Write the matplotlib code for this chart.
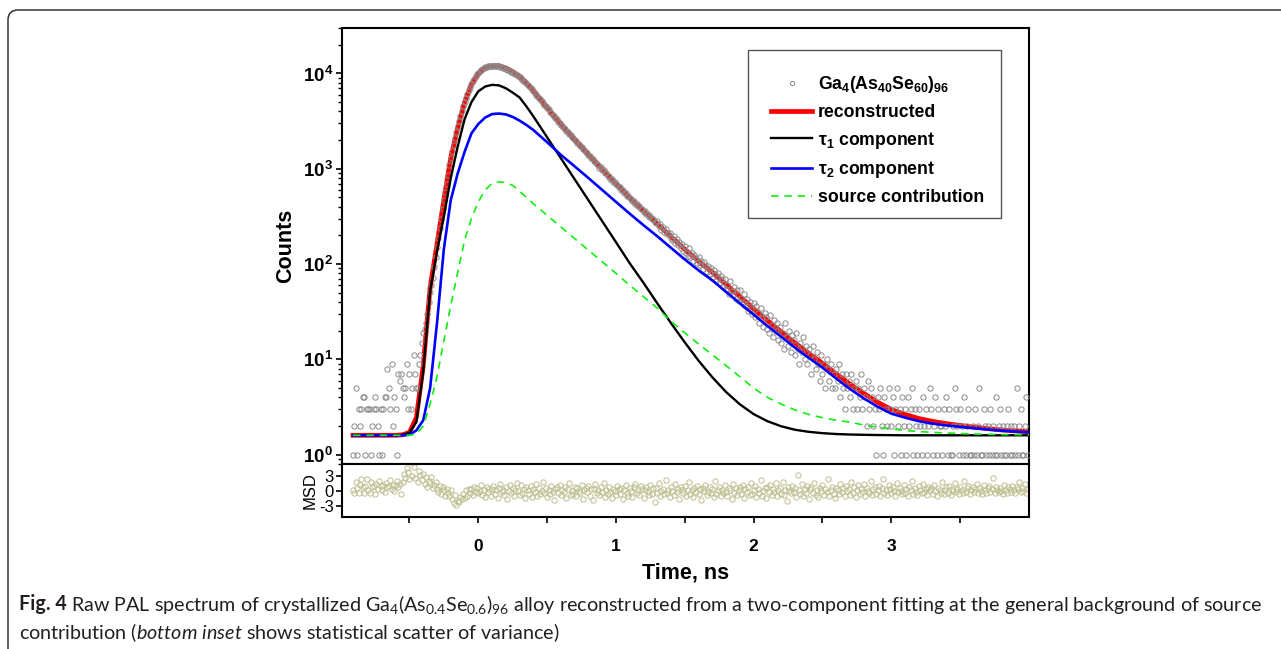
import numpy as np
import matplotlib
matplotlib.use("Agg")
import matplotlib.pyplot as plt
from matplotlib.lines import Line2D
from matplotlib.patches import FancyBboxPatch, Rectangle
from matplotlib.transforms import IdentityTransform
from matplotlib.ticker import LogLocator, NullFormatter, FixedLocator, FixedFormatter

plt.rcParams['font.family'] = ['Liberation Sans', 'DejaVu Sans']
plt.rcParams['mathtext.fontset'] = 'custom'
plt.rcParams['mathtext.rm'] = 'Liberation Sans'
plt.rcParams['mathtext.it'] = 'Lato:italic'
plt.rcParams['mathtext.bf'] = 'Liberation Sans:bold'
plt.rcParams['mathtext.default'] = 'regular'

# ---------------- data ----------------
T0 = -0.91      # first channel time, ns
DT = 0.01       # channel width, ns

COUNTS = [
    1, 2, 5, 1, 3, 2, 3, 4, 4, 1,
    3, 3, 3, 1, 2, 3, 4, 3, 2, 1,
    3, 1, 3, 4, 4, 8, 5, 3, 9, 2,
    4, 3, 1, 7, 6, 7, 5, 4, 5, 9,
    3, 7, 3, 5, 11, 7, 5, 5, 9, 11,
    15, 19, 21, 24, 30, 40, 51, 60, 72, 93,
    118, 152, 190, 240, 300, 375, 465, 570, 700, 860,
    1100, 1290, 1520, 1790, 2090, 2420, 2780, 3170, 3590, 4040,
    4520, 5030, 5570, 6130, 6700, 7260, 7810, 8340, 8850, 9330,
    9780, 10190, 10560, 10890, 11170, 11410, 11610, 11770, 11900, 12000,
    12070, 12110, 12120, 12100, 12060, 11990, 11900, 11790, 11660, 11510,
    11350, 11180, 11000, 10810, 10620, 10420, 10210, 10000, 9780, 9560,
    9340, 9110, 8870, 8620, 8370, 8120, 7870, 7610, 7350, 7090,
    6830, 6500, 6300, 5990, 5810, 5520, 5350, 5090, 4950, 4700,
    4570, 4330, 4200, 3990, 3890, 3680, 3580, 3390, 3300, 3130,
    3060, 2910, 2840, 2700, 2640, 2500, 2450, 2320, 2280, 2150,
    2110, 2000, 1960, 1850, 1830, 1720, 1700, 1600, 1580, 1490,
    1470, 1380, 1370, 1290, 1280, 1200, 1190, 1110, 1100, 1030,
    1035, 970, 962, 905, 896, 843, 836, 787, 780, 734,
    731, 688, 681, 642, 637, 599, 596, 560, 557, 523,
    521, 489, 488, 460, 458, 431, 430, 404, 404, 380,
    381, 355, 358, 333, 337, 313, 316, 294, 297, 276,
    268, 281, 251, 262, 229, 247, 219, 236, 205, 214,
    212, 187, 179, 196, 168, 183, 158, 172, 149, 163,
    138, 155, 131, 122, 146, 118, 131, 109, 126, 117,
    102, 118, 97, 109, 88, 104, 99, 83, 96, 79,
    91, 72, 86, 79, 66, 81, 63, 75, 70, 58,
    69, 55, 61, 49, 66, 52, 47, 58, 43, 53,
    41, 53, 44, 38, 49, 36, 43, 32, 40, 34,
    30, 39, 28, 36, 31, 24, 35, 27, 22, 31,
    28, 21, 19, 29, 23, 17, 26, 20, 24, 16,
    22, 15, 19, 13, 24, 17, 14, 20, 12, 18,
    16, 11, 19, 13, 9, 15, 12, 17, 10, 14,
    9, 13, 11, 7, 14, 10, 8, 12, 9, 6,
    11, 7, 9, 5, 10, 8, 6, 9, 5, 7,
    5, 8, 6, 9, 4, 7, 5, 3, 7, 5,
    6, 4, 7, 3, 5, 6, 3, 5, 4, 7,
    3, 5, 4, 2, 6, 3, 5, 4, 2, 3,
    1, 4, 3, 5, 2, 1, 4, 3, 2, 5,
    3, 2, 4, 1, 3, 5, 2, 3, 1, 4,
    2, 3, 1, 4, 2, 3, 5, 1, 3, 2,
    1, 3, 2, 1, 4, 2, 3, 1, 2, 5,
    3, 1, 2, 4, 1, 3, 2, 2, 1, 3,
    2, 4, 1, 3, 1, 1, 2, 5, 3, 2,
    1, 3, 2, 1, 4, 1, 2, 3, 1, 1,
    2, 1, 3, 1, 2, 5, 1, 1, 3, 2,
    1, 2, 1, 3, 1, 2, 1, 4, 1, 2,
    3, 1, 2, 1, 1, 2, 3, 1, 2, 1,
    2, 1, 5, 1, 2, 3, 1, 1, 2, 4, 1,
]

MSD = [
    0.3, -0.4, 1.8, 0.6, -0.3, 1.2, 2.4, 0.9, -0.4, 1.0,
    2.5, 0.2, -0.3, 1.9, 0.8, 1.1, -0.5, 1.4, 0.4, 2.0,
    1.0, 0.3, 1.3, -0.2, 1.6, 0.9, 1.0, 2.2, 0.5, 1.2,
    0.1, 1.3, 2.0, 0.9, 1.5, -0.6, 1.8, 3.4, 2.6, 4.6,
    3.9, 2.4, 5.8, 3.1, 4.8, 2.7, 5.9, 1.9, 4.1, 3.2,
    2.2, 3.5, 1.4, 2.8, 0.9, 2.1, 1.6, 2.9, 0.6, 1.2,
    1.8, 0.4, -0.2, 1.1, -0.6, 0.8, 0.2, -0.9, 0.5, -0.4,
    -1.0, 0.3, -1.6, -2.3, -0.8, -2.7, -1.9, -2.2, -1.1, -1.5,
    -0.6, -1.3, 0.2, -0.9, 0.5, -0.3, 0.4, -0.8, 0.9, -0.2,
    0.6, -0.4, 0.1, 1.2, -0.7, 0.3, -1.2, 0.8, -0.1, 0.5,
    -0.9, 0.4, 1.1, -0.5, 0.2, -1.3, 0.7, 1.5, -0.2, 0.3,
    -0.7, 0.9, -1.6, 0.1, 1.2, -0.4, 0.6, -1.0, 0.3, 1.7,
    0.0, -0.8, 1.3, -0.3, 0.5, -1.4, 0.8, 0.2, -0.6, 1.0,
    -1.1, 0.4, -0.2, 1.4, -0.9, 0.7, -0.5, 0.1, 1.9, -0.3,
    0.6, -1.2, 0.2, -0.6, 1.1, -0.1, -1.7, 0.5, 0.9, -0.4,
    1.3, -0.8, 0.3, -0.2, 0.8, -1.3, 0.4, 1.6, -0.7, 0.1,
    -0.5, 0.9, -1.0, 0.6, 0.0, -0.4, 1.2, -1.5, 0.3, 0.7,
    -0.2, 1.0, -0.9, 0.4, -1.8, 0.5, 1.4, -0.3, 0.2, -0.7,
    0.8, -0.1, 1.7, -1.1, 0.3, -0.6, 0.9, -0.2, -1.3, 0.5,
    0.1, -0.8, 1.1, 0.4, -0.5, 0.7, -1.6, 0.2, 1.3, -0.3,
    -0.9, 0.6, 0.0, -1.2, 0.8, 1.5, -0.4, 0.3, -0.7, 1.0,
    0.4, -1.4, 0.2, 0.9, -0.2, -0.8, 1.2, -0.5, 0.6, -2.1,
    0.7, -0.3, 1.6, -1.0, 0.1, 0.5, -0.6, 2.2, -0.4, 0.3,
    -1.2, 0.8, 0.0, -0.7, 1.4, -0.2, 0.5, -1.5, 0.9, 0.2,
    -0.4, 1.1, -0.9, 0.3, 1.8, -0.6, 0.2, -1.1, 0.7, -0.1,
    1.0, -0.5, 0.4, -1.7, 0.6, 0.1, 1.3, -0.8, -0.2, 0.9,
    -0.3, 0.5, -1.2, 2.0, -0.6, 0.3, 0.8, -0.9, 0.2, -0.4,
    1.2, -0.1, -1.0, 0.6, 0.3, -1.6, 1.5, -0.3, 0.7, -0.8,
    0.2, 0.9, -0.5, 1.3, -1.3, 0.4, -0.2, 0.8, -0.7, 1.7,
    -0.6, 0.3, 1.0, -1.1, 0.5, -0.3, 2.3, -0.9, 0.1, 0.6,
    -1.4, 0.8, -0.2, 1.2, -0.7, 0.4, -0.1, 1.6, -1.0, 0.3,
    0.7, -0.5, 1.9, -0.8, 0.2, -1.9, 0.9, 0.0, -0.4, 1.1,
    -0.2, 0.6, -1.2, 3.2, 0.3, -0.6, 1.4, -0.9, 0.5, -0.3,
    1.0, -1.5, 0.4, 0.8, -0.4, 1.7, -0.7, 0.2, -1.1, 0.6,
    0.1, 1.3, -0.8, 0.5, -0.2, 2.4, -1.0, 0.3, 0.9, -0.5,
    -1.3, 0.7, 0.2, -0.6, 1.5, -0.1, 0.6, -0.9, 1.1, 0.0,
    0.4, -0.7, 1.8, -0.3, 0.9, -1.2, 0.3, 1.2, -0.5, 0.5,
    -0.2, 1.4, -0.9, 0.6, 0.1, -0.4, 2.0, -0.8, 0.4, 0.8,
    -0.6, 0.3, 1.1, -1.0, 0.7, 2.5, -0.3, 0.2, -0.7, 1.3,
    0.5, -0.4, 0.9, 0.1, -0.9, 1.6, -0.2, 0.6, 0.0, -0.6,
    1.2, -0.3, 0.4, -1.0, 0.8, 0.2, 2.0, -0.5, 0.6, -0.1,
    -0.7, 1.0, 0.3, -0.4, 1.5, -0.2, 0.5, -0.8, 0.9, 0.2,
    0.6, -0.5, 1.3, 0.0, -0.9, 0.7, 0.3, -0.3, 1.8, -0.6,
    0.2, 0.9, -0.4, 1.1, -0.7, 0.4, 0.0, 1.6, -0.2, 0.5,
    -0.5, 0.8, 0.2, -0.3, 2.1, -0.1, 0.6, 1.0, -0.6, 0.3,
    0.9, -0.2, 0.4, 1.4, -0.4, 0.7, 0.1, -0.5, 1.2, 0.3,
    -0.3, 0.6, 1.0, -0.1, 0.4, 2.6, -0.4, 0.8, 0.2, -0.2,
    0.7, 0.1, -0.5, 1.3, 0.3, -0.3, 0.9, 0.5, -0.1, 1.1,
    0.2, -0.4, 0.8, 0.4, 1.9, -0.2, 0.6, 0.0, 1.4, -0.3, 0.5,
]

# fitted curves read at these times (ns)
T_FIT = [-0.91, -0.60, -0.55, -0.50, -0.45, -0.40, -0.35, -0.30, -0.25, -0.20,
         -0.15, -0.10, -0.05, 0.00, 0.05, 0.10, 0.15, 0.20, 0.25, 0.30,
         0.35, 0.40, 0.50, 0.60, 0.70, 0.80, 0.90, 1.00, 1.10, 1.20,
         1.30, 1.40, 1.50, 1.60, 1.70, 1.80, 1.90, 2.00, 2.10, 2.20,
         2.30, 2.40, 2.50, 2.60, 2.70, 2.80, 2.90, 3.00, 3.10, 3.20,
         3.30, 3.40, 3.50, 3.60, 3.70, 3.80, 3.90, 4.00]
RECONSTRUCTED = [1.6, 1.6, 1.62, 1.72, 2.45, 8.6, 57, 162, 473, 1304,
                 2668, 4975, 7647, 9897, 11347, 12047, 12027, 11432, 10467, 9377,
                 7877, 6527, 4362, 2932, 2018, 1405, 985, 697, 497, 362,
                 266, 194, 143, 107, 82, 61, 45.6, 34, 25.6, 19.5,
                 14.9, 11.6, 9.1, 7.05, 5.5, 4.4, 3.56, 2.98, 2.65, 2.4,
                 2.24, 2.12, 2.03, 1.95, 1.88, 1.82, 1.78, 1.74]
TAU1 = [1.6, 1.6, 1.62, 1.7, 2.2, 7.5, 52, 135, 315, 800,
        1700, 3300, 5000, 6500, 7300, 7600, 7500, 7000, 6300, 5600,
        4500, 3550, 2140, 1290, 776, 468, 282, 170, 102, 63.6,
        38.8, 24, 15.1, 9.7, 6.5, 4.55, 3.38, 2.67, 2.25, 1.99,
        1.83, 1.74, 1.685, 1.65, 1.63, 1.62, 1.61, 1.605, 1.6, 1.6,
        1.6, 1.6, 1.6, 1.6, 1.6, 1.6, 1.6, 1.6]
TAU2 = [1.6, 1.6, 1.6, 1.62, 1.8, 2.3, 5.0, 24, 145, 470,
        890, 1500, 2350, 2950, 3450, 3750, 3800, 3720, 3500, 3200,
        2880, 2550, 1900, 1400, 1060, 800, 600, 450, 338, 256,
        196, 148, 112, 86, 67.6, 51.1, 38.8, 29.5, 22.5, 17.3,
        13.3, 10.4, 8.2, 6.3, 4.9, 3.9, 3.2, 2.7, 2.45, 2.25,
        2.12, 2.03, 1.96, 1.9, 1.84, 1.79, 1.75, 1.72]
SOURCE = [1.6, 1.6, 1.6, 1.6, 1.65, 2.0, 3.4, 6.6, 15.7, 37,
          81, 178, 300, 450, 600, 700, 730, 715, 670, 580,
          500, 430, 325, 245, 185, 140, 106, 80, 60, 45.6,
          34.6, 25, 19, 14.5, 11.2, 8.6, 6.6, 5.0, 4.0, 3.4,
          2.95, 2.65, 2.45, 2.3, 2.2, 2.05, 1.95, 1.87, 1.8, 1.75,
          1.72, 1.69, 1.67, 1.65, 1.64, 1.63, 1.625, 1.62]

X_TICKS = [-0.5, 0, 0.5, 1, 1.5, 2, 2.5, 3, 3.5]
X_TICK_LABELS = ['', '0', '', '1', '', '2', '', '3', '']
MSD_TICKS = [-3, 0, 3]
MSD_TICK_LABELS = ['-3', '0', '3']

LEGEND_LABELS = [r'Ga$_4$(As$_{40}$Se$_{60}$)$_{96}$', 'reconstructed',
                 r'$\tau_1$ component', r'$\tau_2$ component', 'source contribution']

# ---------------- figure ----------------
W, H = 1281, 649
fig = plt.figure(figsize=(W / 100, H / 100), dpi=100)


def fx(px):
    return px / W


def fy(py):
    return 1 - py / H


L, R, TOP, MID, BOT = 342, 1029, 28, 464, 517
ax = fig.add_axes([fx(L), fy(MID), (R - L) / W, (MID - TOP) / H])
axm = fig.add_axes([fx(L), fy(BOT), (R - L) / W, (BOT - MID) / H])


def ax_x(px):
    return (px - L) / (R - L)


def ax_y(py):
    return 1 - (py - TOP) / (MID - TOP)


n = min(len(COUNTS), len(MSD))
t = T0 + DT * np.arange(n)
counts = np.array(COUNTS[:n], dtype=float)
msd = np.array(MSD[:n], dtype=float)

ax.plot(T_FIT, RECONSTRUCTED, color='#ff0000', lw=3.4, zorder=2)
ax.plot(t, counts, ls='none', marker='o', ms=3.8, mfc='none', mec='#8a8a8a', mew=0.7, zorder=3)
ax.plot(T_FIT, TAU1, color='black', lw=1.7, zorder=4)
ax.plot(T_FIT, TAU2, color='#0000ff', lw=1.9, zorder=4)
ax.plot(T_FIT, SOURCE, color='#11ee11', lw=1.2, dashes=(4.5, 3.5), zorder=5)

ax.set_yscale('log')
ax.set_ylim(0.8, 3.0e4)
ax.set_xlim(-0.99, 4.0)
ax.yaxis.set_major_locator(LogLocator(base=10, numticks=10))
ax.yaxis.set_minor_locator(LogLocator(base=10, subs=np.arange(2, 10), numticks=20))
ax.yaxis.set_minor_formatter(NullFormatter())
ax.tick_params(axis='x', which='both', bottom=False, top=False, labelbottom=False)
ax.tick_params(axis='y', which='major', direction='out', length=4.5, width=1.2, pad=2,
               labelsize=13.5)
ax.tick_params(axis='y', which='minor', direction='out', length=2.8, width=1.0)
for lab in ax.get_yticklabels():
    lab.set_fontweight('bold')
ax.set_ylabel('Counts', fontsize=15.5, fontweight='bold', labelpad=5)

axm.plot(t, msd, ls='none', marker='o', ms=3.8, mfc='none', mec='#bdbd8e', mew=0.7)
axm.set_xlim(-0.99, 4.0)
axm.set_ylim(-5.2, 5.4)
axm.xaxis.set_major_locator(FixedLocator(X_TICKS))
axm.xaxis.set_major_formatter(FixedFormatter(X_TICK_LABELS))
axm.yaxis.set_major_locator(FixedLocator(MSD_TICKS))
axm.yaxis.set_major_formatter(FixedFormatter(MSD_TICK_LABELS))
axm.tick_params(axis='x', direction='out', length=4, width=1.2, pad=12, labelsize=12.5)
axm.tick_params(axis='y', direction='out', length=4, width=1.2, pad=2, labelsize=12)
for lab in axm.get_xticklabels():
    lab.set_fontweight('bold')
axm.set_ylabel('MSD', fontsize=12, labelpad=1)
axm.set_xlabel('Time, ns', fontsize=15.5, fontweight='bold', labelpad=6)

for a in (ax, axm):
    for s in a.spines.values():
        s.set_linewidth(1.5)

handles = [
    Line2D([], [], ls='none', marker='o', ms=3.0, mfc='none', mec='#8a8a8a', mew=0.7),
    Line2D([], [], color='#ff0000', lw=3.4),
    Line2D([], [], color='black', lw=1.7),
    Line2D([], [], color='#0000ff', lw=1.9),
    Line2D([], [], color='#11ee11', lw=1.2, dashes=(4.5, 3.5)),
]
leg = ax.legend(handles, LEGEND_LABELS, loc='upper left',
                bbox_to_anchor=(ax_x(771), ax_y(74)),
                prop={'family': 'Liberation Sans', 'weight': 'bold', 'size': 12.7},
                frameon=False, borderpad=0, labelspacing=0.5, handlelength=2.35,
                handletextpad=0.3, borderaxespad=0)
leg.set_zorder(10)
ax.add_patch(Rectangle((ax_x(748), ax_y(218)), ax_x(1001) - ax_x(748), ax_y(50) - ax_y(218),
                       transform=ax.transAxes, fill=False, edgecolor='#555555', lw=1.0,
                       zorder=9))

# outer rounded frame
frame = FancyBboxPatch((8, -30), 1310, H - 10 + 30, boxstyle='round,pad=0,rounding_size=10',
                       transform=IdentityTransform(), fill=False, edgecolor='#333333', lw=1.1)
fig.patches.append(frame)

# caption
CAP_COLOR = '#231f20'
renderer = fig.canvas.get_renderer()


def place_caption(fs):
    t1 = fig.text(fx(19), fy(604), 'Fig. 4', fontfamily='Lato', fontweight='bold',
                  fontsize=fs, va='center', ha='left', color=CAP_COLOR)
    bb = t1.get_window_extent(renderer)
    t2 = fig.text((bb.x1 + fs * 0.3) / W, fy(604),
                  r'Raw PAL spectrum of crystallized Ga$_4$(As$_{0.4}$Se$_{0.6}$)$_{96}$ alloy '
                  r'reconstructed from a two-component fitting at the general background of source',
                  fontfamily='Lato', fontsize=fs, va='center', ha='left', color=CAP_COLOR)
    t3 = fig.text(fx(19), fy(633),
                  r'contribution ($\mathit{bottom\ inset}$ shows statistical scatter of variance)',
                  fontfamily='Lato', fontsize=fs, va='center', ha='left', color=CAP_COLOR)
    return [t1, t2, t3], t2.get_window_extent(renderer).x1 - 19


fs0 = 12.0
items, width = place_caption(fs0)
for it in items:
    it.remove()
place_caption(fs0 * (1263 - 19) / width)

fig.savefig('out.png', dpi=100)
